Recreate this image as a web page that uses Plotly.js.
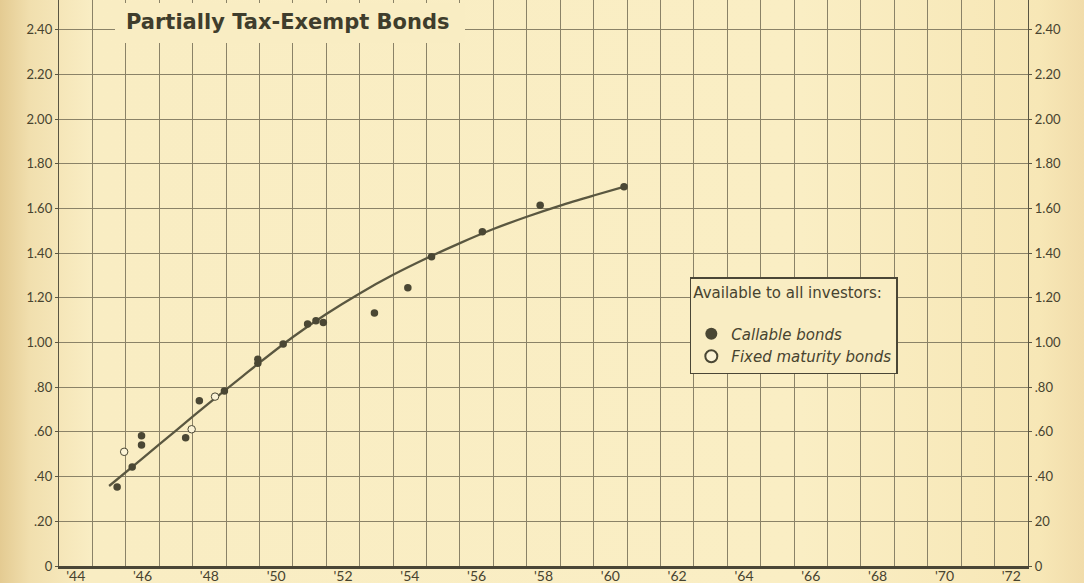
<!DOCTYPE html>
<html>
<head>
<meta charset="utf-8">
<script src="https://cdn.plot.ly/plotly-3.0.1.min.js"></script>
<style>
  html, body { margin:0; padding:0; }
  body { width:1084px; height:583px; overflow:hidden;
    background: linear-gradient(to right, #e4cb92 0px, #f1dfae 30px, #f9edc3 90px, #faeec4 800px, #f7e7b6 1040px, #f1dcaa 1084px); }
  #chart { width:1084px; height:583px; }
</style>
</head>
<body>
<div id="chart"></div>
<script>
// Fitted curve
const curveYears  = [1945.5, 1946.5, 1947.5, 1948.5, 1949.5, 1950.0, 1951.0, 1952.0, 1953.0, 1954.0, 1955.0, 1956.0, 1957.0, 1958.0, 1959.0, 1960.0, 1960.9];
const curveValues = [0.358, 0.482, 0.606, 0.730, 0.850, 0.910, 1.025, 1.128, 1.220, 1.303, 1.377, 1.445, 1.508, 1.563, 1.613, 1.658, 1.697];

// Callable bonds (filled dots)
const callableYears  = [1945.74, 1946.19, 1946.47, 1946.47, 1947.79, 1948.20, 1948.95, 1949.95, 1949.95, 1950.71, 1951.44, 1951.69, 1951.91, 1953.44, 1954.44, 1955.15, 1956.67, 1958.40, 1960.91];
const callableValues = [0.353, 0.443, 0.583, 0.541, 0.574, 0.740, 0.783, 0.907, 0.925, 0.993, 1.083, 1.098, 1.090, 1.132, 1.245, 1.384, 1.496, 1.615, 1.697];

// Fixed maturity bonds (open circles)
const fixedYears  = [1945.95, 1947.97, 1948.67];
const fixedValues = [0.511, 0.612, 0.758];

// Axis ticks
const xTickVals = [1944.5, 1946.5, 1948.5, 1950.5, 1952.5, 1954.5, 1956.5, 1958.5, 1960.5, 1962.5, 1964.5, 1966.5, 1968.5, 1970.5, 1972.5];
const xTickText = ["'44", "'46", "'48", "'50", "'52", "'54", "'56", "'58", "'60", "'62", "'64", "'66", "'68", "'70", "'72"];
const yTickVals = [0, 0.2, 0.4, 0.6, 0.8, 1.0, 1.2, 1.4, 1.6, 1.8, 2.0, 2.2, 2.4];
const yTickTextLeft  = ["0", ".20", ".40", ".60", ".80", "1.00", "1.20", "1.40", "1.60", "1.80", "2.00", "2.20", "2.40"];
const yTickTextRight = ["0", "20", ".40", ".60", ".80", "1.00", "1.20", "1.40", "1.60", "1.80", "2.00", "2.20", "2.40"];

const ink = '#47432f';
const grid = '#8a8267';
const bg = '#f9edc3';
const font = 'Lato, "Open Sans", sans-serif';
const wide = '"DejaVu Sans", Verdana, sans-serif';

const traces = [
  { x: curveYears, y: curveValues, mode: 'lines', line: {color: '#5a5740', width: 2.3, shape: 'spline', smoothing: 0.8},
    showlegend: false, hoverinfo: 'skip' },
  { x: callableYears, y: callableValues, mode: 'markers', name: 'Callable bonds',
    marker: {symbol: 'circle', size: 7.5, color: '#4a4734', line: {width: 0}} },
  { x: fixedYears, y: fixedValues, mode: 'markers', name: 'Fixed maturity bonds',
    marker: {symbol: 'circle', size: 7.5, color: '#fbf3d6', line: {width: 1, color: '#4a4734'}} },
  { x: [], y: [], yaxis: 'y2', mode: 'markers', showlegend: false, hoverinfo: 'skip' }
];

const layout = {
  width: 1084, height: 583,
  margin: {l: 59, r: 56, t: 0, b: 17, pad: 0},
  paper_bgcolor: 'rgba(0,0,0,0)',
  plot_bgcolor: 'rgba(0,0,0,0)',
  font: {family: font, color: ink, size: 13},
  showlegend: true,
  xaxis: {
    range: [1944, 1973], fixedrange: true,
    tickmode: 'array', tickvals: xTickVals, ticktext: xTickText,
    showgrid: false, ticks: '', zeroline: false,
    showline: true, linecolor: '#4a4636', linewidth: 2.5,
    ticklabelstandoff: -4,
    tickfont: {size: 14, color: ink},
    minor: {tick0: 1944, dtick: 1, showgrid: true, gridcolor: grid, gridwidth: 1, ticks: ''}
  },
  yaxis: {
    range: [0, 2.533], fixedrange: true,
    tickmode: 'array', tickvals: yTickVals, ticktext: yTickTextLeft,
    showgrid: true, gridcolor: grid, gridwidth: 1, zeroline: false,
    showline: true, linecolor: '#5a5542', linewidth: 1.2,
    ticks: 'outside', ticklen: 3, tickcolor: '#5a5542',
    tickfont: {size: 13, color: ink}
  },
  yaxis2: {
    overlaying: 'y', side: 'right', range: [0, 2.533], fixedrange: true,
    tickmode: 'array', tickvals: yTickVals, ticktext: yTickTextRight,
    showgrid: false, zeroline: false,
    showline: true, linecolor: '#5a5542', linewidth: 1.2,
    ticks: 'outside', ticklen: 3, tickcolor: '#5a5542',
    tickfont: {size: 13, color: ink}
  },
  legend: {
    x: 0.651, y: 0.5106, xanchor: 'left', yanchor: 'top',
    bgcolor: bg, bordercolor: '#4a4636', borderwidth: 1.5,
    font: {size: 15, color: ink, style: 'italic', family: wide},
    title: {text: 'Available to all investors:<br> ', side: 'top', font: {size: 15, color: ink, family: wide, style: 'normal'}},
    itemsizing: 'constant', tracegroupgap: 0
  },
  shapes: [
    { type: 'rect', xref: 'paper', yref: 'paper',
      x0: (115 - 59) / 969, x1: (465 - 59) / 969, y0: (566 - 43) / 566, y1: (566 - 3) / 566,
      fillcolor: bg, line: {width: 0}, layer: 'above' }
  ],
  annotations: [
    { text: '<b>Partially Tax-Exempt Bonds</b>', xref: 'paper', yref: 'paper',
      x: (124 - 59) / 969, y: (566 - 22) / 566, xanchor: 'left', yanchor: 'middle',
      showarrow: false, font: {size: 21, color: '#3f3d2c', family: wide} }
  ]
};

Plotly.newPlot('chart', traces, layout, {staticPlot: true, displayModeBar: false});
</script>
</body>
</html>
